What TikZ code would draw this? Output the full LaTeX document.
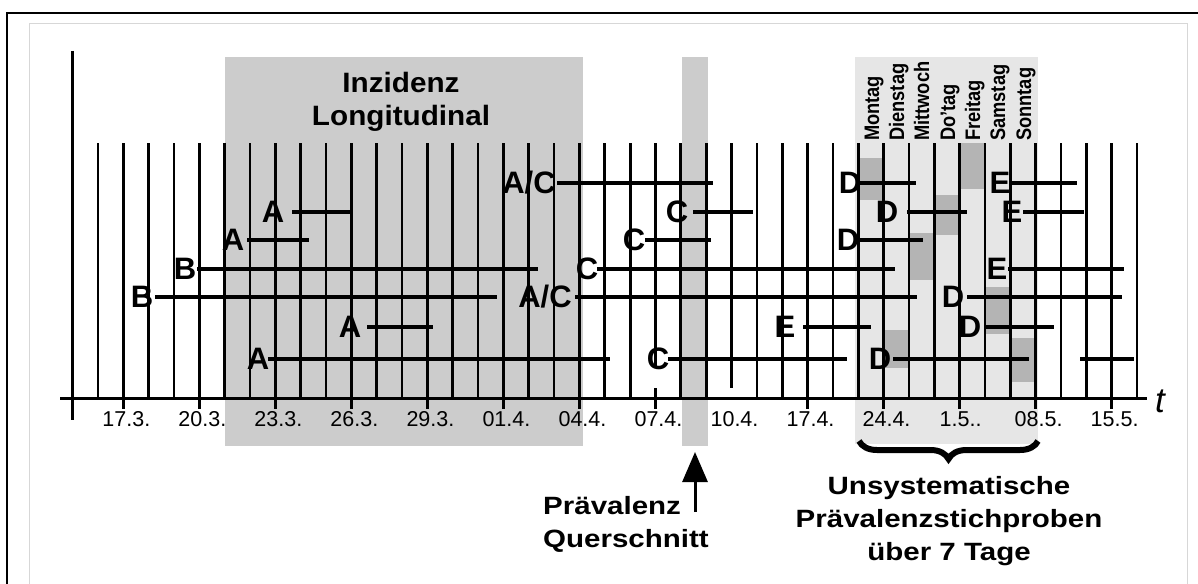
\documentclass[tikz,border=0pt]{standalone}
\usepackage{fontspec}
\setmainfont{Liberation Sans}
\newfontfamily\titlefont[FakeStretch=1.06]{Liberation Sans}
\newfontfamily\dayfont[FakeStretch=0.87]{Liberation Sans}
\newfontfamily\notefont[FakeStretch=1.18]{Liberation Sans}
\usetikzlibrary{decorations.pathreplacing,arrows.meta}
\definecolor{incgray}{RGB}{204,204,204}
\definecolor{weekgray}{RGB}{230,230,230}
\definecolor{patchgray}{RGB}{180,180,180}
\definecolor{framegray}{RGB}{215,215,215}
\newcommand\episeg[6]{%
  \node[seglabel] (#1) at (#3,#4) {#2};
  \coordinate (#1s) at (#5,#4);
  \coordinate (#1e) at (#6,#4);
  \draw[segbar] (#1s) -- (#1e);}
\begin{document}
\begin{tikzpicture}[x=1pt,y=-1pt,
  gline/.style={line width=2.7pt,black},
  axisline/.style={line width=3pt,black},
  tickmark/.style={line width=3pt,black},
  segbar/.style={line width=4.6pt,black},
  seglabel/.style={inner sep=0pt,font=\bfseries\fontsize{31}{31}\selectfont},
  ticklabel/.style={inner sep=0pt,anchor=base,font=\fontsize{21.5}{21.5}\selectfont},
  daylabel/.style={inner sep=0pt,rotate=90,anchor=base west,font=\dayfont\bfseries\fontsize{21}{21}\selectfont},
  titletext/.style={inner sep=0pt,anchor=north,align=center,font=\titlefont\bfseries\fontsize{28}{33}\selectfont},
  notetext/.style={inner sep=0pt,font=\notefont\bfseries\fontsize{25}{33}\selectfont}]
\useasboundingbox (0,0) rectangle (1198,583);
\clip (0,0) rectangle (1198,583);
% frames
\draw[line width=2.5pt] (7,13) rectangle (1215,600);
\draw[framegray,line width=1pt] (29,24) rectangle (1187,600);
% shaded regions
\fill[incgray] (225,57) rectangle (583,446);
\fill[incgray] (682,57) rectangle (708,446);
\fill[weekgray] (855,57) rectangle (1038,444);
\fill[patchgray] (858,158) rectangle (884,200);
\fill[patchgray] (934,195) rectangle (960,235);
\fill[patchgray] (908,233) rectangle (934,280);
\fill[patchgray] (960,143) rectangle (985,189);
\fill[patchgray] (985,287) rectangle (1010,334);
\fill[patchgray] (1010,338) rectangle (1036,382);
\fill[patchgray] (884,330) rectangle (908,368);
% grid lines
\foreach \i in {0,...,41}{
  \pgfmathsetmacro\gx{98+25.34*\i}
  \ifnum\i=22
    \draw[gline] (\gx,143) -- (\gx,366);
  \else\ifnum\i=25
    \draw[gline] (\gx,143) -- (\gx,388);
  \else
    \draw[gline] (\gx,143) -- (\gx,398);
  \fi\fi
}
% axes
\draw[axisline] (72,51) -- (72,420);
\draw[axisline] (60,398) -- (1147,398);
\node[inner sep=0pt,font=\itshape\fontsize{35}{35}\selectfont] (tlab) at (1160,401) {t};
% ticks and dates
\foreach \i/\dd/\o in {1/17.3./3,4/20.3./3,7/23.3./3,10/26.3./3,13/29.3./3,16/01.4./3,19/04.4./3,22/07.4./3,25/10.4./3,28/17.4./3,31/24.4./3,34/1.5../1,37/08.5./3,40/15.5./3}{
  \pgfmathsetmacro\gx{98+25.34*\i}
  \ifnum\i=25\else
    \draw[tickmark] (\gx,388) -- (\gx,409);
  \fi
  \node[ticklabel] (d\i) at (\gx+\o,426) {\dd};
}
% episode bars
\episeg{s1}{A}{273}{212}{292}{351}
\episeg{s2}{A}{233}{240}{247}{309}
\episeg{s3}{B}{185}{269}{197}{538}
\episeg{s4}{B}{142}{297}{155}{497}
\episeg{s5}{A}{350}{327}{367}{433}
\episeg{s6}{A}{258}{359}{268}{610}
\episeg{s7}{A/C}{529}{183}{557}{713}
\episeg{s8}{C}{677}{212}{693}{753}
\episeg{s9}{C}{634}{240}{645}{711}
\episeg{s10}{C}{587}{269}{597}{895}
\episeg{s11}{A/C}{545}{297}{575}{917}
\episeg{s12}{C}{658}{359}{668}{847}
\episeg{s13}{E}{785}{327}{803}{871}
\episeg{s14}{D}{850}{183}{860}{916}
\episeg{s15}{D}{887}{212}{907}{967}
\episeg{s16}{D}{848}{240}{857}{923}
\episeg{s17}{D}{880}{359}{893}{1029}
\episeg{s18}{E}{1000}{183}{1011}{1077}
\episeg{s19}{E}{1012}{212}{1023}{1084}
\episeg{s20}{E}{997}{269}{1008}{1124}
\episeg{s21}{D}{953}{297}{967}{1122}
\episeg{s22}{D}{970}{327}{986}{1054}
\coordinate (s23s) at (1080,359);
\coordinate (s23e) at (1134,359);
\draw[segbar] (s23s) -- (s23e);
% weekday labels
\node[daylabel] (mo) at (879,141) {Montag};
\node[daylabel] (di) at (904,141) {Dienstag};
\node[daylabel] (mi) at (929,141) {Mittwoch};
\node[daylabel] (do) at (955,141) {Do’tag};
\node[daylabel] (fr) at (980,141) {Freitag};
\node[daylabel] (sa) at (1005,141) {Samstag};
\node[daylabel] (so) at (1031,141) {Sonntag};
% titles and notes
\node[titletext] (title) at (401,72) {Inzidenz\\Longitudinal};
\node[notetext,align=left,anchor=north west] (prev) at (543,496) {Prävalenz\\Querschnitt};
\coordinate (arrS) at (695,512);
\coordinate (arrE) at (695,452);
\draw[line width=3pt,-{Triangle[width=25pt,length=30pt]}] (arrS) -- (arrE);
\coordinate (brL) at (859,441);
\coordinate (brR) at (1038,441);
\draw[decorate,decoration={brace,mirror,amplitude=18pt},line width=6pt] (brL) -- (brR);
\node[notetext,align=center,anchor=north] (unsys) at (949,476) {Unsystematische\\Prävalenzstichproben\\über 7 Tage};
\end{tikzpicture}
\end{document}
